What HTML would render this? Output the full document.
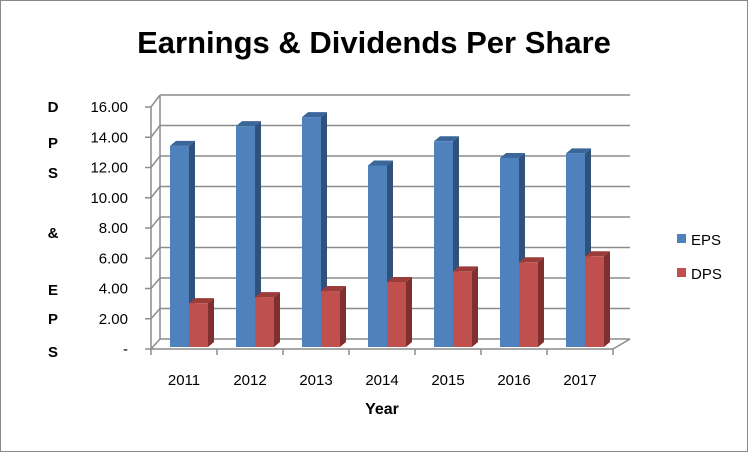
<!DOCTYPE html>
<html><head><meta charset="utf-8">
<style>
body{margin:0;background:#fff;}
#wrap{position:relative;width:748px;height:452px;}
svg text{font-family:"Liberation Sans",sans-serif;fill:#000;}
</style></head>
<body>
<div id="wrap">
<svg id="chart" width="748" height="452" viewBox="0 0 748 452">
<rect x="0.5" y="0.5" width="747" height="451" fill="#fff" stroke="#888"/>
<text x="374" y="53" text-anchor="middle" font-size="31" font-weight="bold">Earnings &amp; Dividends Per Share</text>
<g id="grid"></g>
<g id="bars"></g>
<g id="axes"></g>
<g font-size="15" font-weight="bold" text-anchor="middle">
<text x="53" y="112">D</text><text x="53" y="148">P</text><text x="53" y="178">S</text>
<text x="53" y="238">&amp;</text><text x="53" y="295">E</text><text x="53" y="324">P</text><text x="53" y="357">S</text>
</g>
<text x="382" y="414" text-anchor="middle" font-size="16" font-weight="bold">Year</text>
<g>
<g><rect x="677" y="234" width="9" height="9" fill="#4f81bd"/><text x="691" y="245" font-size="15">EPS</text></g>
<g><rect x="677" y="268" width="9" height="9" fill="#c0504d"/><text x="691" y="279" font-size="15">DPS</text></g>
</g>
</svg>
</div>
<script>
const categories=["2011","2012","2013","2014","2015","2016","2017"];
const epsValues=[13.3,14.6,15.2,12.0,13.6,12.5,12.8];
const dpsValues=[2.9,3.3,3.7,4.3,5.0,5.6,6.0];
const yTicks=[0,2,4,6,8,10,12,14,16];
const yTickLabels=["-","2.00","4.00","6.00","8.00","10.00","12.00","14.00","16.00"];
const NS="http://www.w3.org/2000/svg";
const FX0=151,FY0=349,FX1=613,BX0=160,BY0=339,BX1=630;
const yMax=16;
function yFront(v){return FY0-v*(242/yMax);}
function yBack(v){return BY0-v*(244/yMax);}
function yBar(v){return 347-v*(242/yMax);}
function xCat(i){return FX0+i*(FX1-FX0)/categories.length;}
function mk(tag,attrs,parent){const e=document.createElementNS(NS,tag);for(const k in attrs)e.setAttribute(k,attrs[k]);parent.appendChild(e);return e;}
const grid=document.getElementById('grid'),axes=document.getElementById('axes'),bars=document.getElementById('bars');
// back wall gridlines & side wall lines
yTicks.forEach((v,i)=>{
  const l=mk('line',{x1:BX0,y1:yBack(v),x2:BX1,y2:yBack(v),stroke:'#8c8c8c','stroke-width':1.5},grid);
  
  
  mk('line',{x1:FX0,y1:yFront(v),x2:BX0,y2:yBack(v),stroke:'#8c8c8c','stroke-width':1.5},grid);
  mk('line',{x1:FX0-6,y1:yFront(v),x2:FX0,y2:yFront(v),stroke:'#8c8c8c','stroke-width':1.5},axes);
  const t=mk('text',{x:128,y:yFront(v)+5,'text-anchor':'end','font-size':15},axes);
  t.textContent=yTickLabels[i];
  
  
});
mk('line',{x1:BX0,y1:yBack(yMax),x2:BX0,y2:BY0,stroke:'#8c8c8c','stroke-width':1.5},grid);
mk('line',{x1:FX0,y1:yFront(yMax),x2:FX0,y2:FY0,stroke:'#8c8c8c','stroke-width':1.5},axes);
mk('line',{x1:FX0,y1:FY0,x2:FX1,y2:FY0,stroke:'#8c8c8c','stroke-width':1.5},axes);
mk('line',{x1:FX1,y1:FY0,x2:BX1,y2:BY0,stroke:'#8c8c8c','stroke-width':1.5},axes);
for(let i=0;i<=categories.length;i++){
  mk('line',{x1:xCat(i),y1:FY0,x2:xCat(i),y2:FY0+6,stroke:'#8c8c8c','stroke-width':1.5},axes);
}
categories.forEach((c,i)=>{
  const t=mk('text',{x:xCat(i)+33,y:385,'text-anchor':'middle','font-size':15},axes);
  t.textContent=c;
  
  
});
function bar(x,v,front,side,top,name){
  const g=mk('g',{},bars);
  
  
  const y=yBar(v),b=347,w=19,dx=6,dy=5;
  mk('polygon',{points:`${x+w},${y} ${x+w+dx},${y-dy} ${x+w+dx},${b-dy} ${x+w},${b}`,fill:side},g);
  mk('polygon',{points:`${x},${y} ${x+dx},${y-dy} ${x+w+dx},${y-dy} ${x+w},${y}`,fill:top},g);
  mk('rect',{x:x,y:y,width:w,height:b-y,fill:front},g);
}
categories.forEach((c,i)=>{
  const x0=xCat(i)+19;
  bar(x0,epsValues[i],'#4f81bd','#30517a','#3b6699','bar-eps-'+c);
  bar(x0+19,dpsValues[i],'#c0504d','#7f2f2d','#9a3c3a','bar-dps-'+c);
});
</script>
</body></html>
